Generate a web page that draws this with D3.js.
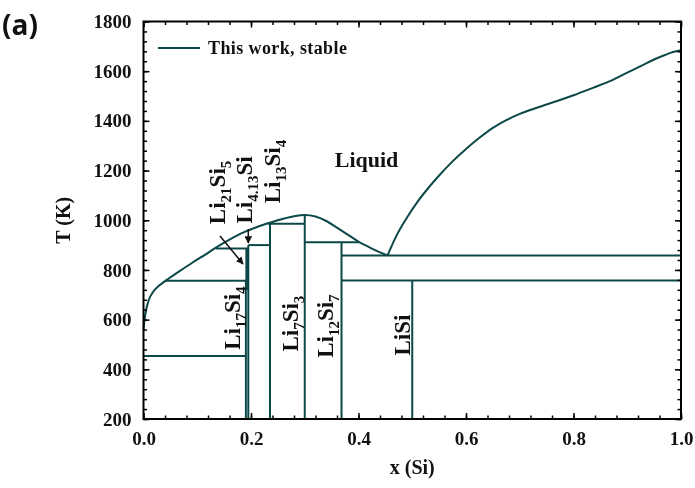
<!DOCTYPE html>
<html>
<head>
<meta charset="utf-8">
<script src="https://cdn.jsdelivr.net/npm/d3@7"></script>
<style>
  html, body { margin: 0; padding: 0; background: #fff; }
  svg { display: block; opacity: 0.9999; will-change: opacity; }
</style>
</head>
<body>
<svg id="chart" width="695" height="488"></svg>
<script>
// Li–Si phase diagram, computed stable equilibria

// Liquidus, Li-rich side up to the Li12Si7 peritectic (x(Si), T in K)
const liquidusLeftX = [0.000, 0.002, 0.005, 0.010, 0.018, 0.028, 0.040, 0.065, 0.090, 0.115, 0.137, 0.160, 0.185, 0.210, 0.235, 0.260, 0.280, 0.300, 0.320, 0.341, 0.360, 0.380, 0.402];
const liquidusLeftT = [560, 600, 640, 680, 712, 735, 755, 792, 828, 862, 893, 922, 950, 972, 990, 1006, 1016, 1021, 1015, 996, 970, 942, 911];

// Liquidus from the Li12Si7 peritectic down to the eutectic
const liquidusMidX = [0.402, 0.428, 0.454];
const liquidusMidT = [911, 883, 858];

// Liquidus, Si-rich side from the eutectic up to pure Si
const liquidusRightX = [0.454, 0.470, 0.490, 0.510, 0.530, 0.550, 0.575, 0.600, 0.625, 0.650, 0.675, 0.700, 0.725, 0.750, 0.775, 0.800, 0.836, 0.870, 0.899, 0.925, 0.948, 0.970, 0.985, 1.000];
const liquidusRightT = [858, 935, 1010, 1075, 1130, 1180, 1237, 1287, 1332, 1372, 1403, 1428, 1448, 1466, 1484, 1503, 1533, 1562, 1593, 1620, 1645, 1665, 1677, 1684];

// Line compounds: composition and the temperature range of each vertical
const compoundX    = [0.1905, 0.1923, 0.1950, 0.2353, 0.3000, 0.3684, 0.5000];
const compoundTlow = [200, 719, 200, 200, 200, 200, 200];
const compoundTtop = [756, 886, 900, 986, 1021, 911, 757];
const compoundW    = [2, 3, 2, 2, 2, 2, 2];

// Invariant (horizontal) reactions: temperature and composition span
const invariantT  = [454, 756, 886, 900, 986, 911, 858, 757];
const invariantX1 = [0.000, 0.040, 0.134, 0.1950, 0.2320, 0.3000, 0.3684, 0.3684];
const invariantX2 = [0.1905, 0.1950, 0.1950, 0.2353, 0.3000, 0.4020, 1.000, 1.000];

// Phase labels (rotated ones read bottom to top)
const phaseParts = [
  [["Li",""],["17","sub"],["Si",""],["4","sub"]],
  [["Li",""],["7","sub"],["Si",""],["3","sub"]],
  [["Li",""],["12","sub"],["Si",""],["7","sub"]],
  [["LiSi",""]],
  [["Li",""],["21","sub"],["Si",""],["5","sub"]],
  [["Li",""],["4.13","sub"],["Si",""]],
  [["Li",""],["13","sub"],["Si",""],["4","sub"]]
];
const phaseLabelX = [0.1795, 0.2874, 0.3526, 0.4958, 0.1516, 0.2019, 0.2540];
const phaseLabelT = [606, 584, 574, 538, 1112, 1122, 1196];

const xTicks = [0, 0.2, 0.4, 0.6, 0.8, 1.0];
const yTicks = [200, 400, 600, 800, 1000, 1200, 1400, 1600, 1800];

const lineColor = "#0c4848";
const serif = "'Liberation Serif', 'DejaVu Serif', serif";

const svg = d3.select("#chart");
const x = d3.scaleLinear().domain([0, 1]).range([143.5, 681]);
const y = d3.scaleLinear().domain([200, 1800]).range([419, 21.5]);

function label(sel, size) {
  return sel.style("font-family", serif).style("font-weight", "bold")
    .style("font-size", size + "px").style("fill", "#111");
}

const plot = svg.append("g");

// Invariant lines
invariantT.forEach((t, i) => {
  plot.append("line")
    .attr("x1", x(invariantX1[i])).attr("x2", x(invariantX2[i]))
    .attr("y1", y(t)).attr("y2", y(t))
    .attr("stroke", lineColor).attr("stroke-width", 2);
});

// Compound lines
compoundX.forEach((c, i) => {
  plot.append("line")
    .attr("x1", x(c)).attr("x2", x(c))
    .attr("y1", y(compoundTlow[i])).attr("y2", y(compoundTtop[i]))
    .attr("stroke", lineColor).attr("stroke-width", compoundW[i]);
});

// Liquidus curves
const curve = d3.line().x(d => x(d[0])).y(d => y(d[1])).curve(d3.curveMonotoneX);
[[liquidusLeftX, liquidusLeftT], [liquidusMidX, liquidusMidT], [liquidusRightX, liquidusRightT]]
  .forEach(([xs, ts]) => {
    plot.append("path").attr("d", curve(xs.map((v, i) => [v, ts[i]])))
      .attr("fill", "none").attr("stroke", lineColor).attr("stroke-width", 2)
      .attr("stroke-linejoin", "round");
  });

// Axes with inward ticks on all four sides
const minorX = d3.range(0, 1.0001, 0.04);
const minorY = d3.range(200, 1800.1, 40);
const fmtX = d3.format(".1f");

function styleAxis(g) {
  g.select(".domain").remove();
  g.selectAll(".tick line").attr("stroke", "#000").attr("stroke-width", 1.5);
  label(g.selectAll("text"), 19);
}

svg.append("g").attr("transform", `translate(0,${y(200)})`)
  .call(d3.axisBottom(x).tickValues(minorX).tickSize(-3.5).tickFormat("")).call(styleAxis);
svg.append("g").attr("transform", `translate(0,${y(200)})`)
  .call(d3.axisBottom(x).tickValues(xTicks).tickSize(-6).tickPadding(13).tickFormat(fmtX)).call(styleAxis);
svg.append("g").attr("transform", `translate(0,${y(1800)})`)
  .call(d3.axisTop(x).tickValues(minorX).tickSize(-3.5).tickFormat("")).call(styleAxis);
svg.append("g").attr("transform", `translate(0,${y(1800)})`)
  .call(d3.axisTop(x).tickValues(xTicks).tickSize(-6).tickFormat("")).call(styleAxis);

svg.append("g").attr("transform", `translate(${x(0)},0)`)
  .call(d3.axisLeft(y).tickValues(minorY).tickSize(-3.5).tickFormat("")).call(styleAxis);
svg.append("g").attr("transform", `translate(${x(0)},0)`)
  .call(d3.axisLeft(y).tickValues(yTicks).tickSize(-6).tickPadding(12).tickFormat(d3.format("d"))).call(styleAxis);
svg.append("g").attr("transform", `translate(${x(1)},0)`)
  .call(d3.axisRight(y).tickValues(minorY).tickSize(-3.5).tickFormat("")).call(styleAxis);
svg.append("g").attr("transform", `translate(${x(1)},0)`)
  .call(d3.axisRight(y).tickValues(yTicks).tickSize(-6).tickFormat("")).call(styleAxis);

// Frame
svg.append("rect")
  .attr("x", x(0)).attr("y", y(1800))
  .attr("width", x(1) - x(0)).attr("height", y(200) - y(1800))
  .attr("fill", "none").attr("stroke", "#000").attr("stroke-width", 2);

// Axis titles
label(svg.append("text"), 20).attr("x", (x(0) + x(1)) / 2).attr("y", 474)
  .attr("text-anchor", "middle").text("x (Si)");
label(svg.append("text"), 20).attr("transform", `translate(70,${y(1000)}) rotate(-90)`)
  .attr("text-anchor", "middle").text("T (K)");

// Panel letter
svg.append("text").attr("x", 2).attr("y", 35)
  .style("font-family", "'Open Sans', 'Noto Sans', sans-serif").style("font-weight", "bold")
  .style("font-size", "28px").style("fill", "#111").text("(a)");

// Legend
svg.append("line").attr("x1", 158).attr("x2", 200).attr("y1", 48).attr("y2", 48)
  .attr("stroke", lineColor).attr("stroke-width", 2);
label(svg.append("text"), 18).attr("x", 208).attr("y", 54)
  .style("letter-spacing", "0.4px").text("This work, stable");

// Liquid region label
label(svg.append("text"), 22).attr("x", x(0.415)).attr("y", y(1215))
  .attr("text-anchor", "middle").text("Liquid");

// Phase labels
phaseParts.forEach((parts, i) => {
  const t = label(svg.append("text"), 23)
    .attr("transform", `translate(${x(phaseLabelX[i])},${y(phaseLabelT[i])}) rotate(-90)`)
    .attr("text-anchor", "middle");
  let shifted = false;
  parts.forEach(([s, kind]) => {
    const ts = t.append("tspan").text(s);
    if (kind === "sub") { ts.style("font-size", "15px").attr("dy", 6); shifted = true; }
    else if (shifted) { ts.attr("dy", -6); shifted = false; }
  });
});

// Arrows pointing at the two compounds between Li17Si4 and Li13Si4
const defs = svg.append("defs");
defs.append("marker").attr("id", "head").attr("viewBox", "0 0 10 10")
  .attr("refX", 9).attr("refY", 5).attr("markerWidth", 5).attr("markerHeight", 5)
  .attr("orient", "auto")
  .append("path").attr("d", "M0,0 L10,5 L0,10 Z").attr("fill", "#111");
svg.append("line").attr("x1", 220).attr("y1", 236).attr("x2", 243).attr("y2", 264)
  .attr("stroke", "#111").attr("stroke-width", 1.5).attr("marker-end", "url(#head)");
svg.append("line").attr("x1", x(0.195)).attr("y1", 229).attr("x2", x(0.195)).attr("y2", 243)
  .attr("stroke", "#111").attr("stroke-width", 1.5).attr("marker-end", "url(#head)");
</script>
</body>
</html>
